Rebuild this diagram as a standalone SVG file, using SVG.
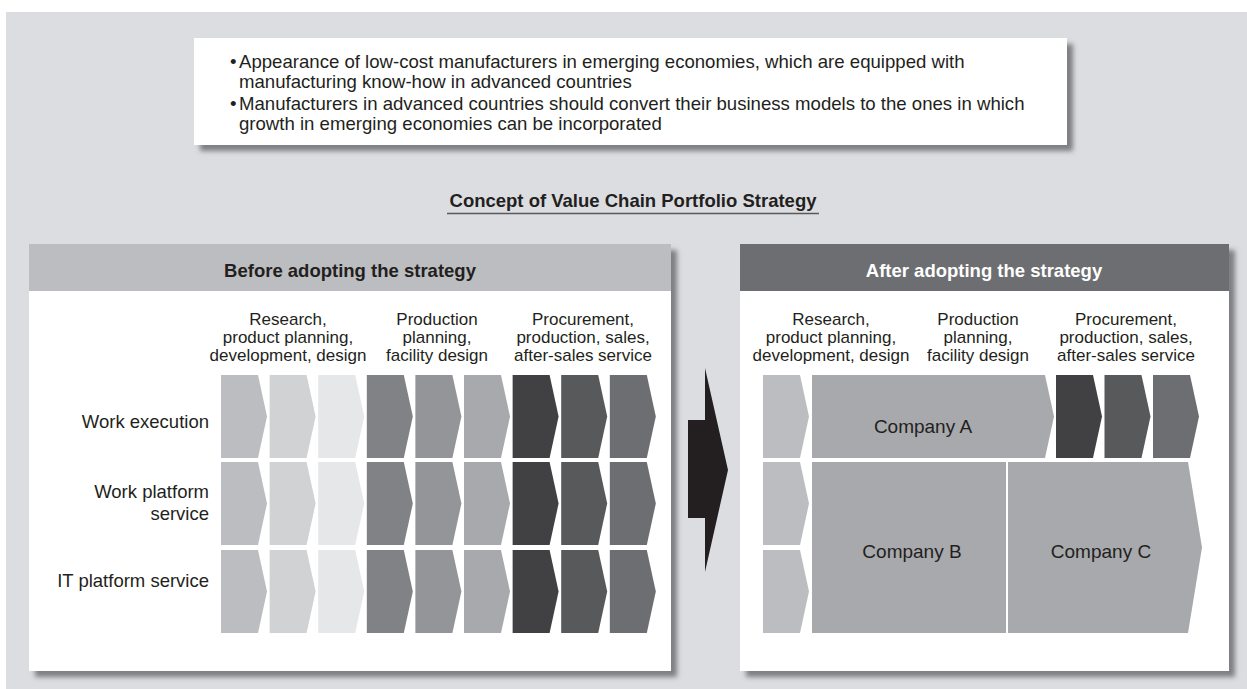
<svg xmlns="http://www.w3.org/2000/svg" width="1247" height="689" viewBox="0 0 1247 689">
<style>
text{font-family:"Liberation Sans",Arial,sans-serif;fill:#231f20}
.body{font-size:18.6px}
.hdr{font-size:17px;text-anchor:middle}
.lbl{font-size:18.5px;text-anchor:end}
.ttl{font-size:18.5px;font-weight:bold;text-anchor:middle}
.co{font-size:19px;text-anchor:middle}
.c1{fill:#bcbdc0}.c2{fill:#d1d2d4}.c3{fill:#e6e7e8}
.c4{fill:#808285}.c5{fill:#939598}.c6{fill:#a7a9ac}
.c7{fill:#414042}.c8{fill:#58595b}.c9{fill:#6d6e71}
.panel{fill:#ffffff}
</style>
<defs>
<filter id="sh" x="-5%" y="-5%" width="115%" height="120%">
<feGaussianBlur in="SourceAlpha" stdDeviation="2.5"/>
<feOffset dx="6" dy="6" result="b"/>
<feFlood flood-color="#6d6e71" flood-opacity="0.85"/>
<feComposite in2="b" operator="in"/>
<feMerge><feMergeNode/><feMergeNode in="SourceGraphic"/></feMerge>
</filter>
<polygon id="chev" points="0,0 37,0 46,41.5 37,83 0,83"/>
</defs>
<rect x="0" y="0" width="1247" height="689" fill="#ffffff"/>
<rect x="6" y="12" width="1241" height="677" fill="#dcdde0"/>

<g id="context-box">
<rect x="194" y="38" width="873" height="107" class="panel" filter="url(#sh)"/>
<text class="body" x="230" y="68">•</text>
<text class="body" x="239" y="68">Appearance of low-cost manufacturers in emerging economies, which are equipped with</text>
<text class="body" x="239" y="88">manufacturing know-how in advanced countries</text>
<text class="body" x="230" y="110">•</text>
<text class="body" x="239" y="110">Manufacturers in advanced countries should convert their business models to the ones in which</text>
<text class="body" x="239" y="130">growth in emerging economies can be incorporated</text>
</g>

<g id="title">
<text class="ttl" x="633" y="207">Concept of Value Chain Portfolio Strategy</text>
<line x1="447" y1="213.5" x2="819" y2="213.5" stroke="#58595b" stroke-width="1.5"/>
</g>

<g id="before-panel">
<rect x="29" y="244" width="642" height="427" class="panel" filter="url(#sh)"/>
<rect x="29" y="244" width="642" height="47" class="c1"/>
<text class="ttl" x="350" y="277">Before adopting the strategy</text>
<text class="hdr" x="288" y="325">Research,</text>
<text class="hdr" x="288" y="343">product planning,</text>
<text class="hdr" x="288" y="361">development, design</text>
<text class="hdr" x="437" y="325">Production</text>
<text class="hdr" x="437" y="343">planning,</text>
<text class="hdr" x="437" y="361">facility design</text>
<text class="hdr" x="583" y="325">Procurement,</text>
<text class="hdr" x="583" y="343">production, sales,</text>
<text class="hdr" x="583" y="361">after-sales service</text>
<text class="lbl" x="209" y="428">Work execution</text>
<text class="lbl" x="209" y="498">Work platform</text>
<text class="lbl" x="209" y="520">service</text>
<text class="lbl" x="209" y="587">IT platform service</text>
<g id="before-chevrons">
<use href="#chev" x="221" y="375" class="c1"/><use href="#chev" x="269.6" y="375" class="c2"/><use href="#chev" x="318.2" y="375" class="c3"/>
<use href="#chev" x="366.8" y="375" class="c4"/><use href="#chev" x="415.4" y="375" class="c5"/><use href="#chev" x="464" y="375" class="c6"/>
<use href="#chev" x="512.6" y="375" class="c7"/><use href="#chev" x="561.2" y="375" class="c8"/><use href="#chev" x="609.8" y="375" class="c9"/>
<use href="#chev" x="221" y="462" class="c1"/><use href="#chev" x="269.6" y="462" class="c2"/><use href="#chev" x="318.2" y="462" class="c3"/>
<use href="#chev" x="366.8" y="462" class="c4"/><use href="#chev" x="415.4" y="462" class="c5"/><use href="#chev" x="464" y="462" class="c6"/>
<use href="#chev" x="512.6" y="462" class="c7"/><use href="#chev" x="561.2" y="462" class="c8"/><use href="#chev" x="609.8" y="462" class="c9"/>
<use href="#chev" x="221" y="550" class="c1"/><use href="#chev" x="269.6" y="550" class="c2"/><use href="#chev" x="318.2" y="550" class="c3"/>
<use href="#chev" x="366.8" y="550" class="c4"/><use href="#chev" x="415.4" y="550" class="c5"/><use href="#chev" x="464" y="550" class="c6"/>
<use href="#chev" x="512.6" y="550" class="c7"/><use href="#chev" x="561.2" y="550" class="c8"/><use href="#chev" x="609.8" y="550" class="c9"/>
</g>
</g>

<g id="connectors">
<polygon points="688,420 705,420 705,368 728,470 705,572 705,518 688,518" fill="#231f20"/>
</g>

<g id="after-panel">
<rect x="740" y="244" width="489" height="427" class="panel" filter="url(#sh)"/>
<rect x="740" y="244" width="489" height="47" class="c9"/>
<text class="ttl" x="984" y="277" style="fill:#ffffff">After adopting the strategy</text>
<text class="hdr" x="831" y="325">Research,</text>
<text class="hdr" x="831" y="343">product planning,</text>
<text class="hdr" x="831" y="361">development, design</text>
<text class="hdr" x="978" y="325">Production</text>
<text class="hdr" x="978" y="343">planning,</text>
<text class="hdr" x="978" y="361">facility design</text>
<text class="hdr" x="1126" y="325">Procurement,</text>
<text class="hdr" x="1126" y="343">production, sales,</text>
<text class="hdr" x="1126" y="361">after-sales service</text>
<use href="#chev" x="763" y="375" class="c1"/>
<use href="#chev" x="763" y="462" class="c1"/>
<use href="#chev" x="763" y="550" class="c1"/>
<use href="#chev" x="1056" y="375" class="c7"/>
<use href="#chev" x="1104.5" y="375" class="c8"/>
<use href="#chev" x="1153" y="375" class="c9"/>
</g>

<g id="company-a">
<polygon points="812,375 1045,375 1054,416.5 1045,458 812,458" class="c6"/>
<text class="co" x="923" y="433">Company A</text>
</g>
<g id="company-b">
<rect x="812" y="462" width="194" height="171" class="c6"/>
<text class="co" x="912" y="558">Company B</text>
</g>
<g id="company-c">
<polygon points="1008,462 1188,462 1202,547.5 1188,633 1008,633" class="c6"/>
<text class="co" x="1101" y="558">Company C</text>
</g>
</svg>
